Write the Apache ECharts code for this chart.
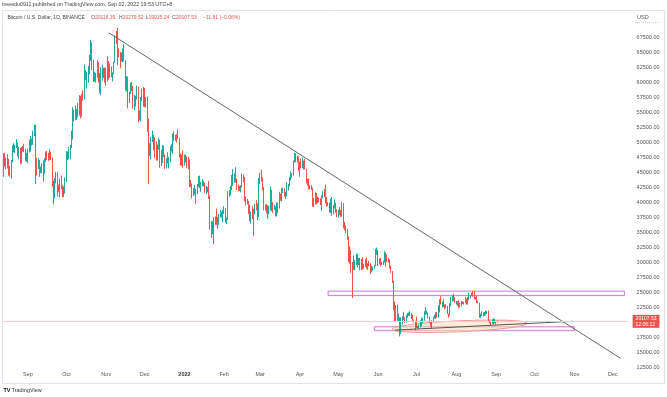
<!DOCTYPE html>
<html lang="en" style="height: 100%">
<head>
  <meta charset="utf-8">
</head>
<body style="height: 100%; margin: 0; background: #fff">
  <div id="container" style="width: 667px; height: 397px"></div>

  <script type="text/javascript" src="https://fastly.jsdelivr.net/npm/echarts@6.0.0/dist/echarts.min.js"></script>
  <script type="text/javascript">
    // daily BTC/USD, values in thousands of USD, each day is [high, low, close]
    // the open of a day is the close of the day before
    var firstOpen = 44.4;
    var aug21 = [[48.1,44.2,47.8],[48.2,45.9,47.1],[47.4,45.5,47.0],[48.0,45.6,46.0],[47.2,44.4,44.7],[46.0,44.2,44.8],[47.0,43.9,46.7],[49.4,46.6,49.3],[49.8,48.3,48.9],[49.5,48.1,49.3],[50.5,49.0,49.5],[49.9,47.6,47.7],[49.2,47.1,48.9],[49.0,46.3,46.9],[49.2,46.4,49.1],[49.3,48.4,48.9],[49.7,48.3,48.8],[48.9,46.8,47.0],[48.2,46.7,47.2]];
    var sep21 = [[48.9,46.5,48.8],[50.4,48.3,49.3],[51.0,48.4,50.0],[50.6,49.4,49.9],[51.9,49.5,51.8],[52.9,51.0,52.7],[52.9,43.0,46.9],[47.4,44.4,46.1],[47.3,45.5,46.4],[47.0,44.2,44.9],[45.9,44.8,45.2],[46.5,44.8,46.1],[46.9,43.4,44.9],[47.3,44.7,47.1],[48.4,46.7,48.1],[48.5,47.0,47.8],[48.2,46.8,47.3],[48.8,47.0,48.3],[48.4,47.0,47.3],[47.4,42.5,43.0],[43.6,39.6,40.7],[44.0,40.6,43.6],[45.0,43.1,44.9],[45.0,40.9,42.8],[42.9,41.7,42.7],[43.9,40.8,43.2],[44.4,42.1,42.2],[42.8,40.8,41.0],[42.6,40.8,41.5],[44.1,41.4,43.8]];
    var oct21 = [[48.5,43.3,48.1],[48.4,47.0,47.7],[49.2,47.1,48.2],[49.5,47.1,49.2],[51.9,49.0,51.5],[55.8,50.4,55.3],[55.4,53.4,53.8],[56.1,53.6,53.9],[55.5,53.7,54.9],[56.5,54.1,54.7],[57.8,54.4,57.5],[57.7,53.9,56.0],[58.0,54.2,57.4],[58.6,56.9,57.3],[62.9,57.1,61.7],[62.0,60.3,60.9],[61.7,58.9,61.5],[62.7,59.9,62.0],[64.5,61.3,64.3],[67.0,63.5,66.0],[66.6,62.0,62.2],[63.7,60.0,60.7],[61.7,60.1,61.3],[61.5,59.9,60.9],[63.7,60.7,63.1],[63.3,59.9,60.4],[61.5,58.1,58.5],[62.5,57.8,60.6],[62.9,60.2,62.3],[62.4,60.7,61.9],[62.4,59.9,61.3]];
    var nov21 = [[62.4,59.4,61.0],[64.3,60.1,63.2],[63.5,60.4,62.9],[63.1,60.7,61.4],[62.6,60.8,61.0],[61.6,60.1,61.5],[63.4,61.3,63.3],[67.8,63.2,67.5],[68.5,66.3,66.9],[69.0,62.8,64.9],[65.6,64.1,64.8],[65.0,62.3,64.2],[64.9,63.4,64.4],[65.6,63.3,65.5],[66.3,63.4,63.6],[63.6,58.6,60.1],[61.0,58.4,60.4],[60.9,55.6,56.9],[58.4,56.5,58.1],[59.9,58.0,59.7],[60.0,58.5,58.7],[59.3,55.6,56.3],[57.9,55.3,57.6],[57.7,55.9,57.2],[59.4,57.1,58.9],[59.2,53.3,53.6],[55.3,53.6,54.8],[57.5,53.4,57.3],[58.9,56.8,57.8],[59.2,55.9,57.0]];
    var dec21 = [[59.0,55.8,56.5],[57.5,55.8,57.0],[57.6,51.7,53.7],[53.9,43.0,49.2],[49.8,47.7,49.4],[50.9,47.1,50.6],[51.9,50.0,50.6],[51.2,48.6,50.5],[50.8,47.3,47.6],[50.1,46.9,47.1],[49.6,46.9,49.4],[50.7,48.7,50.1],[50.4,45.7,46.7],[48.7,46.0,48.4],[49.5,46.5,48.9],[49.4,47.5,47.6],[47.9,45.5,46.2],[47.3,45.6,46.8],[48.3,46.4,46.7],[47.5,45.6,46.9],[49.3,46.6,49.0],[49.6,48.4,48.6],[51.4,48.0,50.8],[51.8,50.2,50.4],[51.2,50.2,50.8],[51.3,49.9,50.7],[52.1,50.5,50.7],[50.7,47.4,47.5],[48.1,46.1,46.5],[47.9,46.0,47.1],[48.6,45.7,46.2]];
    var jan22 = [[47.9,46.1,47.7],[47.9,46.6,47.3],[47.6,45.7,46.4],[47.5,45.5,45.8],[47.1,42.5,43.4],[43.7,42.5,43.1],[43.1,40.6,41.5],[42.3,41.0,41.7],[42.8,41.2,41.8],[42.2,39.7,41.8],[43.0,41.3,42.7],[44.3,42.5,43.9],[44.4,42.3,42.6],[43.4,41.7,43.1],[43.8,42.6,43.1],[43.5,42.6,43.1],[43.2,41.5,42.2],[42.7,41.3,42.4],[42.5,41.6,41.7],[43.5,40.5,40.7],[41.1,35.4,36.5],[36.8,34.0,35.1],[36.8,34.6,36.3],[37.5,33.0,36.7],[37.6,36.2,37.0],[38.9,36.2,36.8],[37.5,35.5,37.2],[38.0,36.2,37.7],[38.7,37.4,38.2],[38.4,37.4,37.9],[38.7,36.6,38.5]];
    var feb22 = [[39.3,38.0,38.7],[39.0,36.6,36.9],[37.4,36.3,37.3],[41.8,37.0,41.6],[42.0,40.9,41.4],[42.7,41.1,42.4],[44.5,42.0,43.9],[45.5,42.7,44.1],[44.8,43.2,44.4],[45.8,43.2,43.6],[43.9,42.0,42.4],[42.9,41.8,42.2],[42.7,41.8,42.1],[42.8,41.6,42.6],[44.7,42.4,44.6],[44.6,43.3,43.9],[44.2,40.1,40.6],[40.9,39.4,40.0],[40.5,39.6,40.1],[40.2,38.0,38.4],[39.5,36.8,37.0],[38.4,36.4,38.3],[39.3,37.1,37.3],[38.9,34.3,38.3],[39.7,38.0,39.2],[40.3,38.6,39.1],[39.8,37.0,37.7],[44.0,37.5,43.2]];
    var mar22 = [[44.9,43.0,44.4],[45.4,43.4,44.0],[44.1,41.9,42.5],[42.5,38.6,39.1],[39.6,38.6,39.4],[39.6,38.1,38.4],[39.5,37.2,38.0],[39.4,37.9,38.7],[42.6,38.6,41.9],[42.0,38.5,39.4],[40.0,38.2,38.8],[39.5,38.7,38.8],[39.3,37.6,37.8],[39.9,37.6,39.7],[39.9,38.1,39.3],[41.7,38.9,41.1],[41.4,40.2,40.9],[42.3,40.1,41.8],[42.4,41.5,42.2],[42.3,40.9,41.3],[41.7,40.5,41.0],[43.3,40.9,42.4],[43.0,41.9,42.9],[44.2,42.6,44.0],[45.1,43.6,44.3],[44.8,44.1,44.5],[46.9,44.4,46.8],[48.2,46.6,47.1],[48.1,46.6,47.4],[47.7,46.6,47.1],[47.6,45.2,45.5]];
    var apr22 = [[46.7,44.2,46.3],[47.2,45.6,45.8],[47.4,45.6,46.4],[46.9,45.4,46.6],[47.2,45.4,45.5],[45.5,43.1,43.2],[43.9,42.7,43.4],[43.9,42.1,42.3],[42.8,42.1,42.7],[42.8,42.0,42.2],[42.4,39.2,39.5],[40.7,39.2,40.1],[41.6,39.6,41.1],[41.5,39.6,39.9],[40.9,39.8,40.5],[40.7,40.0,40.4],[40.6,39.5,39.7],[41.1,38.5,40.8],[41.8,40.6,41.5],[42.2,40.8,41.4],[42.9,39.8,40.5],[40.8,39.2,39.7],[40.0,39.3,39.5],[39.9,38.2,39.4],[40.6,38.2,40.4],[40.8,37.7,38.1],[39.5,37.9,39.2],[40.4,38.9,39.7],[39.9,38.2,38.6],[38.8,37.5,37.6]];
    var may22 = [[38.7,37.4,38.5],[39.2,37.8,38.5],[38.7,37.5,37.7],[40.0,37.6,39.7],[39.8,35.6,36.6],[36.7,35.3,36.0],[36.1,34.8,35.5],[35.5,33.7,34.1],[34.3,30.0,30.1],[32.7,29.7,31.0],[32.0,28.2,29.1],[30.0,24.0,29.0],[31.1,28.7,29.3],[30.3,28.6,30.1],[31.4,29.5,31.3],[31.3,29.1,29.9],[30.7,29.5,30.4],[30.7,28.6,28.7],[30.5,28.7,30.3],[30.8,28.7,29.2],[29.7,28.9,29.4],[30.5,29.2,30.3],[30.7,28.9,29.1],[29.8,28.7,29.7],[30.2,29.3,29.5],[29.8,28.0,29.2],[29.4,28.3,28.6],[29.2,28.6,29.0],[29.5,28.9,29.5],[32.2,29.3,31.7],[32.4,31.2,31.8]];
    var jun22 = [[32.0,29.3,29.8],[30.6,29.6,30.5],[30.7,29.3,29.7],[30.0,29.5,29.9],[30.2,29.5,29.9],[31.8,29.9,31.4],[31.6,29.2,31.1],[31.3,30.0,30.2],[30.7,29.9,30.1],[30.4,28.9,29.1],[29.4,28.2,28.4],[28.5,26.5,26.6],[26.9,22.0,22.5],[23.4,20.1,22.2],[22.8,20.1,22.6],[22.9,20.2,20.4],[21.4,20.2,20.5],[20.8,17.6,19.0],[20.8,18.0,20.6],[21.0,19.6,20.6],[21.7,20.3,20.7],[20.8,19.8,20.0],[21.2,19.9,21.1],[21.5,20.7,21.2],[21.6,21.0,21.5],[21.8,21.0,21.0],[21.5,20.5,20.7],[21.2,20.2,20.3],[20.4,19.9,20.1],[20.2,18.6,19.8]];
    var jul22 = [[20.9,19.0,19.3],[19.4,19.0,19.3],[19.6,18.8,19.3],[20.3,19.1,20.2],[20.7,19.3,20.2],[20.7,19.8,20.5],[21.8,20.2,21.6],[22.5,21.2,21.6],[21.9,21.3,21.6],[21.6,20.6,20.8],[20.9,19.8,19.9],[20.0,19.2,19.3],[20.3,18.9,20.2],[20.9,20.1,20.6],[21.2,20.6,20.8],[21.6,20.5,21.2],[21.7,20.7,20.8],[22.8,20.7,22.4],[23.8,21.6,23.4],[24.3,22.9,23.2],[23.4,22.4,23.2],[23.8,22.5,22.7],[22.9,22.1,22.5],[23.0,22.3,22.6],[22.7,21.3,22.0],[21.4,20.7,21.3],[23.1,21.0,22.9],[24.2,22.6,23.8],[24.4,23.4,23.8],[24.7,23.5,23.7],[24.2,23.2,23.3]];
    var aug22 = [[23.5,22.9,23.3],[23.5,22.7,23.0],[23.6,22.4,22.8],[23.2,22.4,22.6],[23.5,22.6,23.3],[23.4,23.0,23.2],[23.4,22.9,23.2],[24.2,23.1,23.8],[23.9,22.9,23.1],[24.2,22.9,23.9],[24.9,23.6,23.9],[24.5,23.9,24.4],[24.9,24.3,24.4],[25.2,24.2,24.3],[25.2,23.8,24.1],[24.2,23.7,23.9],[24.4,23.2,23.3],[23.6,23.1,23.2],[23.2,20.7,20.8],[21.4,20.7,21.1],[21.8,21.0,21.5],[21.6,20.9,21.4],[21.7,21.0,21.5],[21.9,21.2,21.4],[21.8,21.3,21.6],[21.9,20.1,20.2],[20.3,19.8,20.0],[20.1,19.5,19.6],[20.4,19.6,20.3],[20.6,19.6,19.8],[20.5,19.8,20.0]];
    var sep22 = [[20.2,19.6,20.12],[20.28,19.915,20.10753]];

    var lastPrice = 20107.53;
    var priceTicks = { min: 12500, max: 70000, step: 2500 };
    var monthNames = ['2022', 'Feb', 'Mar', 'Apr', 'May', 'Jun', 'Jul', 'Aug', 'Sep', 'Oct', 'Nov', 'Dec'];

    // drawings on the chart: [date, price] pairs
    var trendLine = [['2021-11-03', 68200], ['2022-12-07', 13950]];
    var supportLine = [['2022-06-14', 18650], ['2022-10-31', 20120]];
    var resistanceBox = [['2022-04-23', 25150], ['2022-12-10', 24400]];
    var supportBox = [['2022-05-29', 19200], ['2022-11-01', 18550]];
    var ellipseTips = [['2022-06-12', 18780, '2022-09-25', 19780]];

    // one category per day, Aug 13 2021 .. Dec 12 2022
    var dates = [];
    var t0 = Date.UTC(2021, 7, 13);
    for (var i = 0; i < 487; i++) {
      dates.push(new Date(t0 + i * 86400000).toISOString().slice(0, 10));
    }

    var candles = [];
    var prev = firstOpen;
    [aug21, sep21, oct21, nov21, dec21, jan22, feb22, mar22, apr22, may22, jun22, jul22, aug22, sep22].forEach(function (month) {
      month.forEach(function (d) {
        // echarts order: open, close, low, high
        candles.push([prev * 1000, d[2] * 1000, d[1] * 1000, d[0] * 1000]);
        prev = d[2];
      });
    });
    while (candles.length < dates.length) candles.push('-');

    var dom = document.getElementById('container');
    var myChart = echarts.init(dom, null, { renderer: 'canvas' });
    var font = 'Liberation Sans';
    var grey = '#555';
    var red = '#ef5350';

    function ohlc(x, k, v) {
      return {
        type: 'text', left: x, top: 15, silent: true,
        style: {
          text: '{k|' + k + '}{v|' + v + '}',
          rich: {
            k: { fill: grey, fontSize: 5, fontFamily: font },
            v: { fill: red, fontSize: 5, fontFamily: font }
          }
        }
      };
    }

    var option = {
      animation: false,
      backgroundColor: '#fff',
      grid: { left: 3, right: 39.4, top: 22, bottom: 30 },
      xAxis: {
        type: 'category',
        data: dates,
        boundaryGap: true,
        axisLine: { show: false },
        axisTick: { show: false },
        splitLine: { show: false },
        axisLabel: {
          interval: function (idx, v) { return v.slice(8) === '01'; },
          formatter: function (v) {
            var m = +v.slice(5, 7);
            return m === 1 ? '{y|' + v.slice(0, 4) + '}' : monthNames[m - 1];
          },
          rich: { y: { fontWeight: 'bold', color: '#333', fontSize: 5.5, fontFamily: font } },
          margin: 4,
          fontSize: 5.5,
          fontFamily: font,
          color: grey
        }
      },
      yAxis: {
        type: 'value',
        position: 'right',
        min: priceTicks.min,
        max: priceTicks.max,
        interval: priceTicks.step,
        axisLine: { show: false },
        axisTick: { show: false },
        splitLine: { show: false },
        axisLabel: {
          formatter: function (v) { return v.toFixed(2); },
          showMaxLabel: false,
          margin: 9,
          fontSize: 5.5,
          fontFamily: font,
          color: grey
        }
      },
      graphic: [
        {
          type: 'rect', silent: true, z: -1,
          shape: { x: 2.5, y: 10.5, width: 662, height: 373 },
          style: { fill: 'none', stroke: '#e0e3eb', lineWidth: 1 }
        },
        {
          type: 'text', left: 2, top: 2.5, silent: true,
          style: { text: 'treeedu0911 published on TradingView.com, Sep 02, 2022 19:53 UTC+8', fill: '#444', fontSize: 5.3, fontFamily: font }
        },
        {
          type: 'text', left: 7.5, top: 15, silent: true,
          style: { text: 'Bitcoin / U.S. Dollar, 1D, BINANCE', fill: '#444', fontSize: 5, fontFamily: font }
        },
        ohlc(91, 'O', '20116.35'),
        ohlc(119, 'H', '20279.52'),
        ohlc(145.7, 'L', '19915.24'),
        ohlc(172.3, 'C', '20107.53'),
        {
          type: 'text', left: 203, top: 15, silent: true,
          style: { text: '\u221211.81 (\u22120.06%)', fill: red, fontSize: 5, fontFamily: font }
        },
        {
          type: 'text', left: 637, top: 14.5, silent: true,
          style: { text: 'USD', fill: grey, fontSize: 5.5, fontFamily: font }
        },
        {
          type: 'line', silent: true,
          shape: { x1: 635, y1: 22.5, x2: 661, y2: 22.5 },
          style: { stroke: '#bbb', lineWidth: 0.6, lineDash: [1, 1] }
        },
        {
          type: 'text', left: 3.5, top: 387.5, silent: true,
          style: { text: 'TV', fill: '#131722', fontSize: 5.5, fontWeight: 'bold', fontFamily: font }
        },
        {
          type: 'text', left: 11.5, top: 387.5, silent: true,
          style: { text: 'TradingView', fill: '#333', fontSize: 5.5, fontFamily: font }
        }
      ],
      series: [
        {
          type: 'custom',
          z: 1,
          silent: true,
          data: ellipseTips,
          encode: { x: [0, 2], y: [1, 3] },
          renderItem: function (params, api) {
            var p1 = api.coord([api.value(0), api.value(1)]);
            var p2 = api.coord([api.value(2), api.value(3)]);
            var dx = p2[0] - p1[0];
            var dy = p2[1] - p1[1];
            return {
              type: 'ellipse',
              x: (p1[0] + p2[0]) / 2,
              y: (p1[1] + p2[1]) / 2,
              rotation: -Math.atan2(dy, dx),
              shape: { cx: 0, cy: 0, rx: Math.sqrt(dx * dx + dy * dy) / 2, ry: 5.5 },
              style: { fill: 'rgba(255,224,178,0.55)', stroke: '#ef9a9a', lineWidth: 1 }
            };
          }
        },
        {
          type: 'candlestick',
          z: 2,
          data: candles,
          barWidth: 0.6,
          itemStyle: {
            color: '#26a69a',
            color0: red,
            borderColor: '#26a69a',
            borderColor0: red,
            borderWidth: 1
          },
          markArea: {
            silent: true,
            itemStyle: {
              color: 'rgba(186,104,200,0.06)',
              borderColor: '#c77dd7',
              borderWidth: 1
            },
            data: [
              [{ xAxis: resistanceBox[0][0], yAxis: resistanceBox[0][1] }, { xAxis: resistanceBox[1][0], yAxis: resistanceBox[1][1] }],
              [{ xAxis: supportBox[0][0], yAxis: supportBox[0][1] }, { xAxis: supportBox[1][0], yAxis: supportBox[1][1] }]
            ]
          },
          markLine: {
            silent: true,
            symbol: ['none', 'none'],
            label: { show: false },
            data: [
              [
                { coord: trendLine[0], lineStyle: { color: '#666', width: 1, type: 'solid' } },
                { coord: trendLine[1] }
              ],
              [
                { coord: supportLine[0], lineStyle: { color: '#555', width: 1, type: 'solid' } },
                { coord: supportLine[1] }
              ],
              {
                yAxis: lastPrice,
                lineStyle: { color: '#f8c8d2', width: 1, type: 'solid' },
                label: {
                  show: true,
                  position: 'end',
                  distance: 5,
                  formatter: '20107.53\n12:06:12',
                  backgroundColor: red,
                  color: '#fff',
                  fontSize: 5,
                  lineHeight: 6,
                  fontFamily: font,
                  padding: [0.5, 3]
                }
              }
            ]
          }
        }
      ]
    };

    myChart.setOption(option);
    window.addEventListener('resize', myChart.resize);
  </script>
</body>
</html>
